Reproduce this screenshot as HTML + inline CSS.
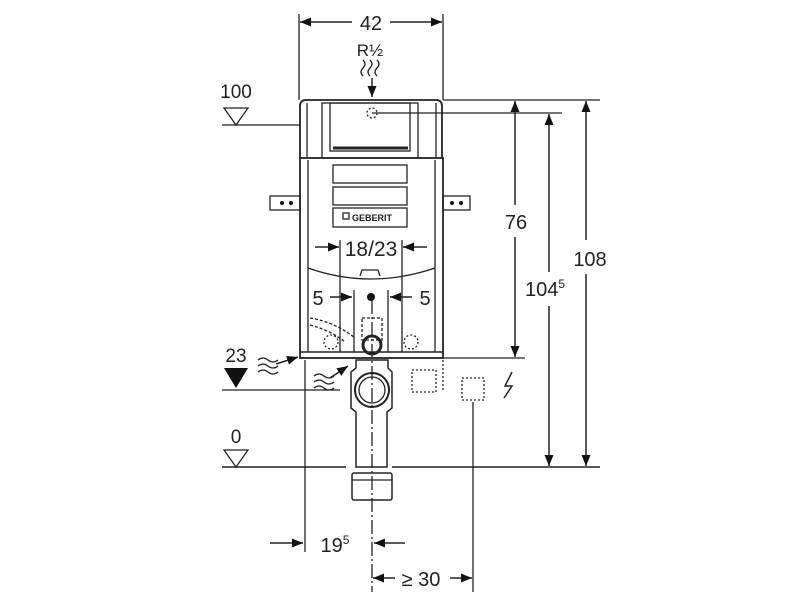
<!DOCTYPE html>
<html><head><style>html,body{margin:0;padding:0;background:#fff}svg{display:block}text{font-family:"Liberation Sans",sans-serif;fill:#222}</style></head>
<body>
<svg width="800" height="600" viewBox="0 0 800 600" xmlns="http://www.w3.org/2000/svg">
<defs>
<marker id="a" markerWidth="11" markerHeight="9" refX="11" refY="4.5" orient="auto" markerUnits="userSpaceOnUse"><path d="M0,0 L11,4.5 L0,9z" fill="#111"/></marker>
</defs>
<g stroke="#222" stroke-width="1.3" fill="none">
<line x1="299" y1="14" x2="299" y2="100"/><line x1="443" y1="14" x2="443" y2="100"/>
<line x1="352" y1="22" x2="300" y2="22" marker-end="url(#a)" stroke-width="1.5"/>
<line x1="390" y1="22" x2="442" y2="22" marker-end="url(#a)" stroke-width="1.5"/>
<path d="M363,60 q4,4 0,8 q-4,4 0,8 M370,60 q4,4 0,8 q-4,4 0,8 M377,60 q4,4 0,8 q-4,4 0,8"/>
<line x1="372" y1="78" x2="372" y2="97" marker-end="url(#a)" stroke-width="1.5"/>
<path d="M300,158 L300,106 Q300,100 306,100 L436,100 Q442,100 442,106 L442,158" stroke-width="1.8"/>
<rect x="330" y="103" width="80" height="48"/>
<rect x="322" y="103" width="96" height="55"/>
<line x1="307" y1="103" x2="307" y2="158"/><line x1="436" y1="103" x2="436" y2="158"/>
<circle cx="372" cy="113" r="5" stroke-dasharray="2 2"/>
<line x1="333" y1="148" x2="408" y2="148" stroke-width="3"/>
<rect x="300" y="158" width="143" height="200" stroke-width="1.8"/>
<line x1="308" y1="160" x2="308" y2="352"/><line x1="435" y1="160" x2="435" y2="352"/>
<line x1="300" y1="352" x2="443" y2="352" stroke-width="1.5"/>
<rect x="333" y="165" width="74" height="18"/><rect x="333" y="187" width="74" height="18"/><rect x="333" y="208" width="74" height="19"/>
<rect x="343" y="213" width="6" height="6"/>
<rect x="270" y="196" width="30" height="14"/><rect x="443" y="196" width="27" height="14"/>
<path d="M308,268 Q370,290 435,268"/>
<path d="M360,276 L362,270 L378,270 L380,276"/>
<line x1="340" y1="240" x2="340" y2="352"/><line x1="402" y1="240" x2="402" y2="352"/>
<line x1="315" y1="247" x2="339" y2="247" marker-end="url(#a)" stroke-width="1.5"/>
<line x1="427" y1="247" x2="403" y2="247" marker-end="url(#a)" stroke-width="1.5"/>
<line x1="354" y1="290" x2="354" y2="352"/><line x1="388" y1="290" x2="388" y2="352"/>
<line x1="330" y1="297" x2="352" y2="297" marker-end="url(#a)" stroke-width="1.5"/>
<line x1="412" y1="297" x2="390" y2="297" marker-end="url(#a)" stroke-width="1.5"/>
<path d="M310,318 Q335,322 355,338 M310,325 Q330,330 345,342" stroke-dasharray="3 2"/>
<rect x="362" y="318" width="20" height="22" stroke-dasharray="3 2"/>
<circle cx="331" cy="342" r="7" stroke-dasharray="2 2"/><circle cx="411" cy="342" r="7" stroke-dasharray="2 2"/>
<circle cx="372" cy="345" r="9" stroke-width="3"/>
<path d="M224,108 L248,108 L236,125z"/><line x1="222" y1="125" x2="300" y2="125"/>
<line x1="372" y1="113" x2="562" y2="113"/><line x1="443" y1="100" x2="600" y2="100"/>
<line x1="443" y1="358" x2="525" y2="358"/>
<line x1="222" y1="390" x2="340" y2="390"/>
<line x1="222" y1="467" x2="346" y2="467" stroke-width="1.5"/><line x1="392" y1="467" x2="600" y2="467" stroke-width="1.5"/>
<line x1="515" y1="205" x2="515" y2="101" marker-end="url(#a)" stroke-width="1.5"/>
<line x1="515" y1="237" x2="515" y2="357" marker-end="url(#a)" stroke-width="1.5"/>
<line x1="549" y1="272" x2="549" y2="114" marker-end="url(#a)" stroke-width="1.5"/>
<line x1="549" y1="306" x2="549" y2="466" marker-end="url(#a)" stroke-width="1.5"/>
<line x1="586" y1="240" x2="586" y2="101" marker-end="url(#a)" stroke-width="1.5"/>
<line x1="586" y1="274" x2="586" y2="466" marker-end="url(#a)" stroke-width="1.5"/>
<path d="M258,360 q5,-4 10,0 t10,0 M258,366 q5,-4 10,0 t10,0 M258,372 q5,-4 10,0 t10,0"/>
<line x1="276" y1="364" x2="298" y2="357" marker-end="url(#a)" stroke-width="1.5"/>
<path d="M314,376 q5,-4 10,0 t10,0 M314,382 q5,-4 10,0 t10,0 M314,388 q5,-4 10,0 t10,0"/>
<line x1="330" y1="378" x2="348" y2="366" marker-end="url(#a)" stroke-width="1.5"/>
<path d="M224,450 L248,450 L236,467z"/>
<path d="M356,360 L388,360 L388,368 L392,372 L392,408 L387,412 L387,467 L356,467 L356,412 L351,408 L351,372 L356,368z" stroke-width="1.5"/>
<circle cx="372" cy="390" r="17" stroke-width="2"/><circle cx="372" cy="390" r="13"/>
<rect x="352" y="473" width="40" height="27" rx="2" stroke-width="1.5"/>
<line x1="352" y1="480" x2="392" y2="480"/>
<line x1="305" y1="360" x2="305" y2="552"/>
<line x1="372" y1="300" x2="372" y2="592" stroke-dasharray="14 3 2 3"/>
<line x1="473" y1="402" x2="473" y2="592"/>
<rect x="412" y="370" width="24" height="22" stroke-dasharray="2 2"/>
<line x1="443" y1="360" x2="443" y2="390" stroke-dasharray="2 2"/>
<rect x="462" y="378" width="22" height="22" stroke-dasharray="2 2"/>
<path d="M512,372 L505,386 L512,386 L504,398" stroke-width="1.5"/>
<line x1="270" y1="543" x2="303" y2="543" marker-end="url(#a)" stroke-width="1.5"/>
<line x1="405" y1="543" x2="374" y2="543" marker-end="url(#a)" stroke-width="1.5"/>
<line x1="395" y1="578" x2="373" y2="578" marker-end="url(#a)" stroke-width="1.5"/>
<line x1="450" y1="578" x2="472" y2="578" marker-end="url(#a)" stroke-width="1.5"/>
</g>
<path d="M224,368 L248,368 L236,388z" fill="#111"/>
<circle cx="371" cy="297" r="4" fill="#111"/>
<circle cx="282" cy="203" r="2" fill="#111"/><circle cx="291" cy="203" r="2" fill="#111"/>
<circle cx="452" cy="203" r="2" fill="#111"/><circle cx="461" cy="203" r="2" fill="#111"/>
<text x="371" y="30" font-size="20" text-anchor="middle">42</text>
<text x="370" y="56" font-size="17" text-anchor="middle">R½</text>
<text x="236" y="98" font-size="19" text-anchor="middle">100</text>
<text x="371" y="256" font-size="21" text-anchor="middle">18/23</text>
<text x="318" y="305" font-size="20" text-anchor="middle">5</text>
<text x="425" y="305" font-size="20" text-anchor="middle">5</text>
<text x="352" y="221" font-size="9" font-weight="bold">GEBERIT</text>
<text x="516" y="229" font-size="20" text-anchor="middle">76</text>
<text x="545" y="296" font-size="20" text-anchor="middle">104<tspan font-size="12" dy="-8">5</tspan></text>
<text x="590" y="266" font-size="20" text-anchor="middle">108</text>
<text x="236" y="362" font-size="19" text-anchor="middle">23</text>
<text x="236" y="443" font-size="19" text-anchor="middle">0</text>
<text x="335" y="552" font-size="20" text-anchor="middle">19<tspan font-size="12" dy="-8">5</tspan></text>
<text x="421" y="586" font-size="20" text-anchor="middle">≥ 30</text>
</svg>
</body></html>
